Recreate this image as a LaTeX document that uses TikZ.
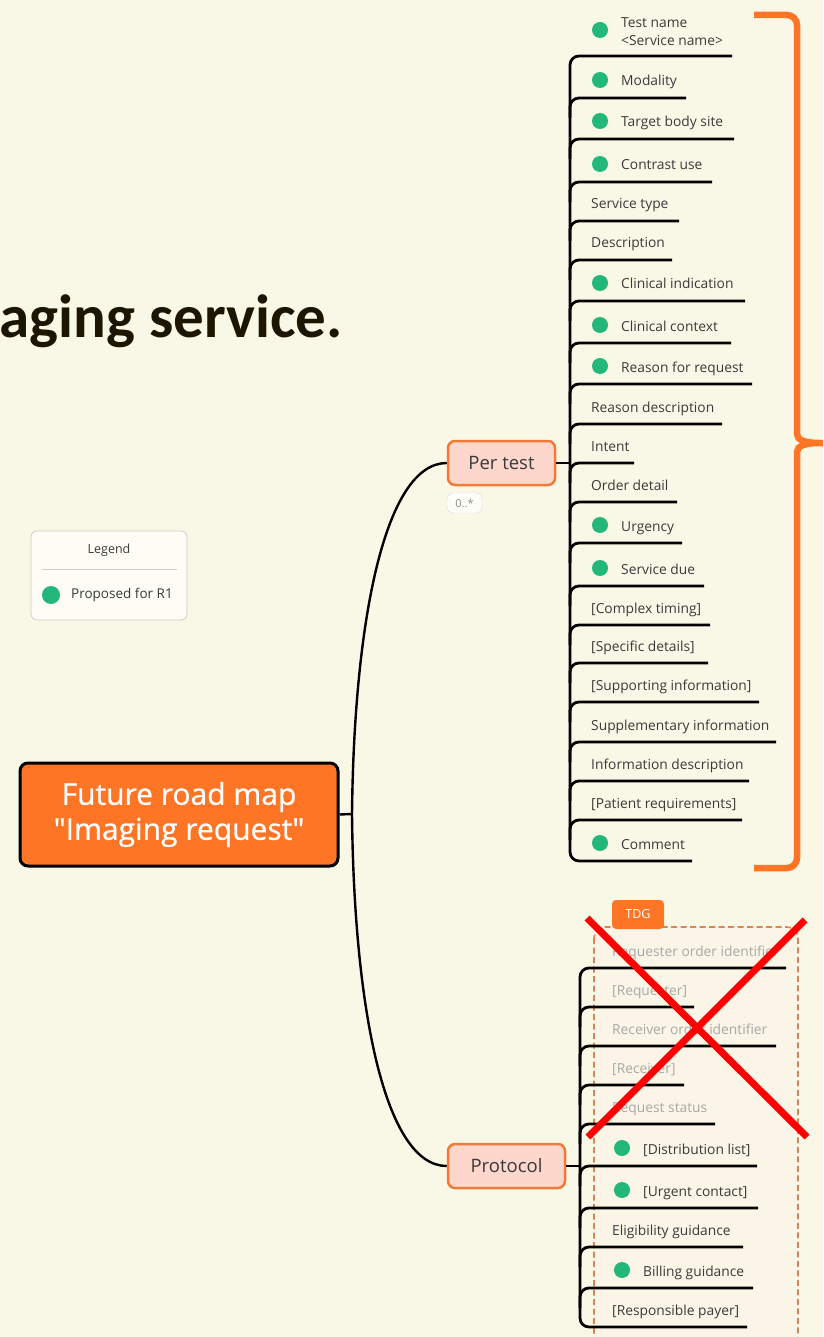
\documentclass[tikz,border=0pt]{standalone}
\usepackage{fontspec}
\setmainfont{Open Sans}
\newfontfamily\titlefont{Carlito}
\newfontfamily\roadfont{Open Sans}[FakeBold=0.8]
\usetikzlibrary{positioning}

\definecolor{paper}{RGB}{249,248,230}
\definecolor{roadorange}{RGB}{255,117,38}
\definecolor{topicpink}{RGB}{253,214,204}
\definecolor{topicedge}{RGB}{240,122,58}
\definecolor{rdot}{RGB}{36,183,122}
\definecolor{itemtext}{RGB}{58,58,58}
\definecolor{fadedtext}{RGB}{168,168,168}
\definecolor{tdgline}{RGB}{218,132,88}
\definecolor{tdgfill}{RGB}{250,245,230}
\definecolor{titlecol}{RGB}{28,22,0}

\tikzset{
  x=1pt, y=-1pt,
  topic/.style={draw=topicedge, line width=2.5pt, fill=topicpink, rounded corners=7pt,
    text=itemtext, font=\fontsize{18.5}{20}\selectfont, minimum height=44pt},
  item/.style={anchor=base west, inner sep=0pt, text=itemtext, font=\fontsize{13.8}{18}\selectfont},
  faded/.style={item, text=fadedtext},
  rdotnode/.style={circle, fill=rdot, minimum size=16pt, inner sep=0pt},
  link/.style={line width=2.4pt, black},
  branch/.style={line width=2.8pt, black, rounded corners=9pt},
}

\begin{document}
\begin{tikzpicture}
\useasboundingbox (0,0) rectangle (823,1337);
\fill[paper] (0,0) rectangle (823,1337);
\clip (0,0) rectangle (823,1337);

% slide title, cut at the left edge
\node[anchor=base east, inner sep=0pt, text=titlecol,
  font=\titlefont\bfseries\fontsize{61}{70}\selectfont] (title) at (343,337) {aging service.};

% legend
\node[draw=black!20, fill=white!60!paper, rounded corners=6pt, minimum width=156pt,
  minimum height=89pt, line width=0.8pt] (legend) at (109,575.5) {};
\node[font=\fontsize{12.5}{14}\selectfont, text=itemtext] (legtitle) at (109,550) {Legend};
\draw[black!20, line width=0.8pt] (42,569) -- (177,569);
\node[rdotnode, minimum size=18pt] (legdot) at (51,595) {};
\node[anchor=west, inner sep=0pt, text=itemtext, font=\fontsize{13.5}{15}\selectfont] (legtext) at (71,595) {Proposed for R1};

% central topic and the two main branches
\node[draw=black, line width=3pt, fill=roadorange, rounded corners=8pt, minimum width=318pt,
  minimum height=103pt, text=white, align=center, font=\roadfont\fontsize{30}{35}\selectfont] (road) at (179,814.5)
  {Future road map\\\textquotedbl Imaging request\textquotedbl};
\node[topic, minimum width=107pt] (pertest) at (501.5,463) {Per test};
\node[topic, minimum width=117pt] (protocol) at (506.5,1166) {Protocol};
\node[draw=black!15, fill=white!70!paper, rounded corners=6pt, minimum width=35pt, minimum height=20pt,
  inner sep=0pt, text=black!45, font=\fontsize{11}{12}\selectfont] (card) at (464.5,503) {0..*};

\coordinate (fork) at (352,814);
\draw[link] (road.east) -- (fork);
\draw[link] (fork) .. controls (354,620) and (385,463) .. (pertest.west);
\draw[link] (fork) .. controls (354,1010) and (385,1166) .. (protocol.west);

% per test fields
\node[rdotnode] (d1) at (600,30) {};
\node[item, anchor=west, align=left] (pt1) at (621,32) {Test name\\<Service name>};
\coordinate (e1) at (732,56);
\foreach \n/\y/\xe/\hasdot/\txt in {
  2/98/686/1/Modality, 3/139/734/1/Target body site, 4/182/712/1/Contrast use,
  5/221/679/0/Service type, 6/260/672/0/Description, 7/301/745/1/Clinical indication,
  8/343/731/1/Clinical context, 9/384/752/1/Reason for request, 10/424/722/0/Reason description,
  11/463/634/0/Intent, 12/502/677/0/Order detail, 13/543/682/1/Urgency, 14/586/704/1/Service due,
  15/625/710/0/{[Complex timing]}, 16/663/708/0/{[Specific details]},
  17/702/759/0/{[Supporting information]}, 18/742/776/0/Supplementary information,
  19/781/749/0/Information description, 20/820/742/0/{[Patient requirements]}, 21/861/692/1/Comment}
{
  \coordinate (e\n) at (\xe,\y);
  \coordinate (s\n) at (570,\y+20);
  \ifnum\hasdot=1
    \node[rdotnode] (d\n) at (600,\y-18) {};
    \node[item] (pt\n) at (621,\y-12) {\txt};
  \else
    \node[item] (pt\n) at (591,\y-12) {\txt};
  \fi
}
\draw[link] (pertest.east) -- (570,463);
\draw[branch] (e1) -- (570,56) -- (570,861) -- (e21);
\foreach \n in {2,...,20} \draw[branch] (s\n) |- (e\n);

% protocol fields, TDG group
\draw[tdgline, dashed, dash pattern=on 6pt off 3.5pt, line width=1.6pt, fill=tdgfill, rounded corners=11pt]
  (594,927) rectangle (798,1352);
\fill[roadorange, rounded corners=4pt] (612,929) -- (612,900) -- (664,900) -- (664,929) -- cycle;
\node[text=white, font=\fontsize{12.5}{14}\selectfont] (tdg) at (638,914) {TDG};

\foreach \n/\y/\xe/\kind/\txt in {
  1/968/786/0/Requester order identifier, 2/1007/694/0/{[Requester]},
  3/1046/776/0/Receiver order identifier, 4/1085/684/0/{[Receiver]}, 5/1124/715/0/Request status,
  6/1166/757/2/{[Distribution list]}, 7/1208/758/2/{[Urgent contact]},
  8/1247/743/1/Eligibility guidance, 9/1288/753/2/Billing guidance, 10/1327/747/1/{[Responsible payer]}}
{
  \coordinate (q\n) at (\xe,\y);
  \coordinate (r\n) at (580,\y+20);
  \ifcase\kind
    \node[faded] (pr\n) at (612,\y-12) {\txt};
  \or
    \node[item] (pr\n) at (612,\y-12) {\txt};
  \or
    \node[rdotnode] (dp\n) at (622,\y-18) {};
    \node[item] (pr\n) at (643,\y-12) {\txt};
  \fi
}
\draw[link] (protocol.east) -- (580,1166);
\draw[branch] (q1) -- (580,968) -- (580,1327) -- (q10);
\foreach \n in {2,...,9} \draw[branch] (r\n) |- (q\n);

% crossed out
\draw[red, line width=7pt] (587,918) -- (807,1137);
\draw[red, line width=7pt] (805,920) -- (588,1137);

% brace round the per test fields
\draw[roadorange, line width=6.5pt, rounded corners=10pt] (754,15) -| (797,424)
  .. controls (797,440) and (805,443) .. (830,443)
  .. controls (805,443) and (797,446) .. (797,462) |- (754,868);
\end{tikzpicture}
\end{document}
